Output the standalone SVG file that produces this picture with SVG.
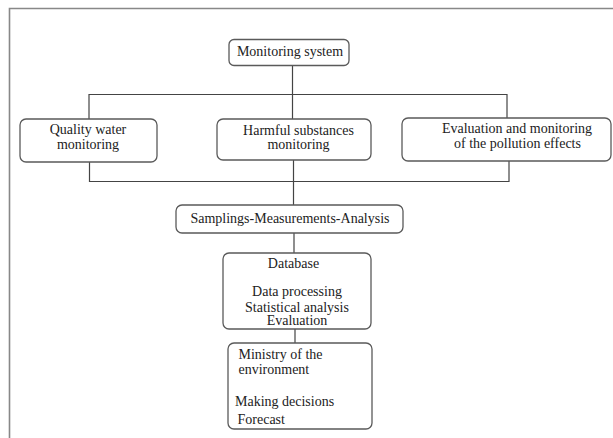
<svg xmlns="http://www.w3.org/2000/svg" width="613" height="438" viewBox="0 0 613 438">
<style>
.box{fill:#fff;stroke:#5a5a5a;stroke-width:1.3}
.ln{fill:none;stroke:#444;stroke-width:1.2}
text{font-family:"Liberation Serif","Times New Roman",serif;font-size:14px;fill:#222}
.c{text-anchor:middle}
</style>
<rect width="613" height="438" fill="#fff"/>
<path id="frame" d="M9.5,438 V8.5 H613" fill="none" stroke="#888" stroke-width="1.6"/>
<g id="connectors" class="ln">
<path d="M292.5,65 V119"/>
<path d="M89,119 V94.5 H507 V118"/>
<path d="M89.5,162 V181.5 H509 V161"/>
<path d="M293.5,160 V205"/>
<path d="M294,233 V253"/>
<path d="M295,329 V343"/>
</g>
<g id="monitoring-system">
<rect class="box" x="229" y="39.5" width="120" height="26" rx="5"/>
<text class="c" x="290" y="56">Monitoring system</text>
</g>
<g id="quality-water">
<rect class="box" x="20" y="119" width="137" height="43" rx="6"/>
<text class="c" x="88" y="134">Quality water</text>
<text class="c" x="88" y="148.5">monitoring</text>
</g>
<g id="harmful-substances">
<rect class="box" x="217" y="119" width="154" height="41" rx="6"/>
<text class="c" x="298.5" y="134.5">Harmful substances</text>
<text class="c" x="298.5" y="148.5">monitoring</text>
</g>
<g id="evaluation">
<rect class="box" x="402" y="118" width="209" height="43" rx="6"/>
<text class="c" x="517" y="133">Evaluation and monitoring</text>
<text class="c" x="517.5" y="147.5">of the pollution effects</text>
</g>
<g id="samplings">
<rect class="box" x="176" y="205" width="227" height="28" rx="6"/>
<text class="c" x="290" y="223">Samplings-Measurements-Analysis</text>
</g>
<g id="database">
<rect class="box" x="223" y="253" width="148" height="76" rx="6"/>
<text class="c" x="293.5" y="267.5">Database</text>
<text class="c" x="297" y="296">Data processing</text>
<text class="c" x="297" y="311.5">Statistical analysis</text>
<text class="c" x="297" y="325">Evaluation</text>
</g>
<g id="ministry">
<rect class="box" x="228" y="343" width="144" height="86" rx="6"/>
<text x="238.5" y="358.5">Ministry of the</text>
<text x="238.5" y="373.5">environment</text>
<text x="235" y="406">Making decisions</text>
<text x="237.5" y="423.5">Forecast</text>
</g>
</svg>
